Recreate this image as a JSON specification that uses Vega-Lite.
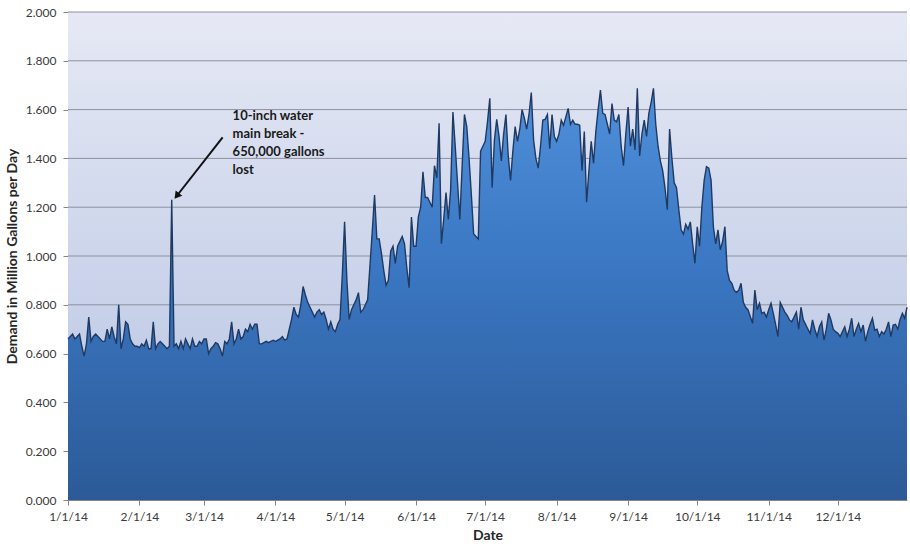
{
  "$schema": "https://vega.github.io/schema/vega-lite/v6.json",
  "width": 839,
  "height": 488,
  "autosize": {"type": "none"},
  "padding": {"left": 68, "top": 12, "right": 3, "bottom": 47},
  "background": "white",
  "config": {
    "view": {"stroke": null},
    "font": "Lato",
    "axis": {
      "domainColor": "#868686",
      "tickColor": "#868686",
      "tickSize": 5,
      "labelColor": "#3a3a3a",
      "labelFont": "Lato",
      "labelFontSize": 12,
      "titleFont": "Lato",
      "titleFontSize": 14,
      "titleFontWeight": "bold",
      "titleColor": "#262626",
      "grid": false
    }
  },
  "datasets": {
    "panel": [{"date": "2014/01/01", "date2": "2014/12/31", "mgd": 0, "mgd2": 2}],
    "gridlines": [{"mgd": 0.2}, {"mgd": 0.4}, {"mgd": 0.6}, {"mgd": 0.8}, {"mgd": 1.0}, {"mgd": 1.2}, {"mgd": 1.4}, {"mgd": 1.6}, {"mgd": 1.8}, {"mgd": 2.0}],
    "note": [
      {"date": "2014/03/13 10:00", "mgd": 1.574, "text": "10-inch water"},
      {"date": "2014/03/13 10:00", "mgd": 1.500, "text": "main break -"},
      {"date": "2014/03/13 10:00", "mgd": 1.426, "text": "650,000 gallons"},
      {"date": "2014/03/13 10:00", "mgd": 1.352, "text": "lost"}
    ],
    "arrow": [{"date": "2014/03/09 02:00", "mgd": 1.486, "date2": "2014/02/17 12:00", "mgd2": 1.25}],
    "arrowhead": [{"date": "2014/02/17 12:00", "mgd": 1.25}],
    "demand": [
      {"date":"2014/01/01","mgd":0.66},{"date":"2014/01/02","mgd":0.67},{"date":"2014/01/03","mgd":0.68},{"date":"2014/01/04","mgd":0.66},{"date":"2014/01/05","mgd":0.67},{"date":"2014/01/06","mgd":0.68},{"date":"2014/01/07","mgd":0.63},{"date":"2014/01/08","mgd":0.59},{"date":"2014/01/09","mgd":0.64},{"date":"2014/01/10","mgd":0.75},{"date":"2014/01/11","mgd":0.65},{"date":"2014/01/12","mgd":0.67},{"date":"2014/01/13","mgd":0.68},{"date":"2014/01/14","mgd":0.67},{"date":"2014/01/15","mgd":0.66},{"date":"2014/01/16","mgd":0.65},{"date":"2014/01/17","mgd":0.65},{"date":"2014/01/18","mgd":0.70},{"date":"2014/01/19","mgd":0.66},{"date":"2014/01/20","mgd":0.71},{"date":"2014/01/21","mgd":0.67},{"date":"2014/01/22","mgd":0.64},{"date":"2014/01/23","mgd":0.80},{"date":"2014/01/24","mgd":0.62},{"date":"2014/01/25","mgd":0.66},{"date":"2014/01/26","mgd":0.73},{"date":"2014/01/27","mgd":0.72},{"date":"2014/01/28","mgd":0.66},{"date":"2014/01/29","mgd":0.64},{"date":"2014/01/30","mgd":0.63},{"date":"2014/01/31","mgd":0.63},
      {"date":"2014/02/01","mgd":0.625},{"date":"2014/02/02","mgd":0.64},{"date":"2014/02/03","mgd":0.63},{"date":"2014/02/04","mgd":0.655},{"date":"2014/02/05","mgd":0.62},{"date":"2014/02/06","mgd":0.62},{"date":"2014/02/07","mgd":0.73},{"date":"2014/02/08","mgd":0.62},{"date":"2014/02/09","mgd":0.64},{"date":"2014/02/10","mgd":0.65},{"date":"2014/02/11","mgd":0.64},{"date":"2014/02/12","mgd":0.63},{"date":"2014/02/13","mgd":0.62},{"date":"2014/02/14","mgd":0.63},{"date":"2014/02/15","mgd":1.23},{"date":"2014/02/16","mgd":0.63},{"date":"2014/02/17","mgd":0.64},{"date":"2014/02/18","mgd":0.62},{"date":"2014/02/19","mgd":0.65},{"date":"2014/02/20","mgd":0.62},{"date":"2014/02/21","mgd":0.66},{"date":"2014/02/22","mgd":0.64},{"date":"2014/02/23","mgd":0.62},{"date":"2014/02/24","mgd":0.66},{"date":"2014/02/25","mgd":0.63},{"date":"2014/02/26","mgd":0.63},{"date":"2014/02/27","mgd":0.65},{"date":"2014/02/28","mgd":0.64},
      {"date":"2014/03/01","mgd":0.66},{"date":"2014/03/02","mgd":0.66},{"date":"2014/03/03","mgd":0.60},{"date":"2014/03/04","mgd":0.62},{"date":"2014/03/05","mgd":0.63},{"date":"2014/03/06","mgd":0.645},{"date":"2014/03/07","mgd":0.64},{"date":"2014/03/08","mgd":0.62},{"date":"2014/03/09","mgd":0.59},{"date":"2014/03/10","mgd":0.65},{"date":"2014/03/11","mgd":0.64},{"date":"2014/03/12","mgd":0.66},{"date":"2014/03/13","mgd":0.73},{"date":"2014/03/14","mgd":0.64},{"date":"2014/03/15","mgd":0.66},{"date":"2014/03/16","mgd":0.70},{"date":"2014/03/17","mgd":0.66},{"date":"2014/03/18","mgd":0.67},{"date":"2014/03/19","mgd":0.70},{"date":"2014/03/20","mgd":0.69},{"date":"2014/03/21","mgd":0.72},{"date":"2014/03/22","mgd":0.70},{"date":"2014/03/23","mgd":0.72},{"date":"2014/03/24","mgd":0.72},{"date":"2014/03/25","mgd":0.64},{"date":"2014/03/26","mgd":0.64},{"date":"2014/03/27","mgd":0.645},{"date":"2014/03/28","mgd":0.65},{"date":"2014/03/29","mgd":0.645},{"date":"2014/03/30","mgd":0.65},{"date":"2014/03/31","mgd":0.655},
      {"date":"2014/04/01","mgd":0.65},{"date":"2014/04/02","mgd":0.655},{"date":"2014/04/03","mgd":0.66},{"date":"2014/04/04","mgd":0.67},{"date":"2014/04/05","mgd":0.655},{"date":"2014/04/06","mgd":0.66},{"date":"2014/04/07","mgd":0.70},{"date":"2014/04/08","mgd":0.74},{"date":"2014/04/09","mgd":0.79},{"date":"2014/04/10","mgd":0.76},{"date":"2014/04/11","mgd":0.75},{"date":"2014/04/12","mgd":0.80},{"date":"2014/04/13","mgd":0.875},{"date":"2014/04/14","mgd":0.84},{"date":"2014/04/15","mgd":0.81},{"date":"2014/04/16","mgd":0.79},{"date":"2014/04/17","mgd":0.77},{"date":"2014/04/18","mgd":0.75},{"date":"2014/04/19","mgd":0.77},{"date":"2014/04/20","mgd":0.78},{"date":"2014/04/21","mgd":0.76},{"date":"2014/04/22","mgd":0.77},{"date":"2014/04/23","mgd":0.74},{"date":"2014/04/24","mgd":0.70},{"date":"2014/04/25","mgd":0.73},{"date":"2014/04/26","mgd":0.70},{"date":"2014/04/27","mgd":0.69},{"date":"2014/04/28","mgd":0.72},{"date":"2014/04/29","mgd":0.74},{"date":"2014/04/30","mgd":0.92},
      {"date":"2014/05/01","mgd":1.14},{"date":"2014/05/02","mgd":0.90},{"date":"2014/05/03","mgd":0.74},{"date":"2014/05/04","mgd":0.78},{"date":"2014/05/05","mgd":0.80},{"date":"2014/05/06","mgd":0.82},{"date":"2014/05/07","mgd":0.85},{"date":"2014/05/08","mgd":0.77},{"date":"2014/05/09","mgd":0.78},{"date":"2014/05/10","mgd":0.80},{"date":"2014/05/11","mgd":0.82},{"date":"2014/05/12","mgd":0.96},{"date":"2014/05/13","mgd":1.10},{"date":"2014/05/14","mgd":1.25},{"date":"2014/05/15","mgd":1.07},{"date":"2014/05/16","mgd":1.07},{"date":"2014/05/17","mgd":1.01},{"date":"2014/05/18","mgd":0.94},{"date":"2014/05/19","mgd":0.88},{"date":"2014/05/20","mgd":0.90},{"date":"2014/05/21","mgd":1.02},{"date":"2014/05/22","mgd":1.04},{"date":"2014/05/23","mgd":0.97},{"date":"2014/05/24","mgd":1.04},{"date":"2014/05/25","mgd":1.06},{"date":"2014/05/26","mgd":1.08},{"date":"2014/05/27","mgd":1.05},{"date":"2014/05/28","mgd":0.95},{"date":"2014/05/29","mgd":0.87},{"date":"2014/05/30","mgd":1.16},{"date":"2014/05/31","mgd":1.04},
      {"date":"2014/06/01","mgd":1.04},{"date":"2014/06/02","mgd":1.16},{"date":"2014/06/03","mgd":1.20},{"date":"2014/06/04","mgd":1.345},{"date":"2014/06/05","mgd":1.24},{"date":"2014/06/06","mgd":1.24},{"date":"2014/06/07","mgd":1.22},{"date":"2014/06/08","mgd":1.20},{"date":"2014/06/09","mgd":1.37},{"date":"2014/06/10","mgd":1.32},{"date":"2014/06/11","mgd":1.544},{"date":"2014/06/12","mgd":1.05},{"date":"2014/06/13","mgd":1.15},{"date":"2014/06/14","mgd":1.26},{"date":"2014/06/15","mgd":1.15},{"date":"2014/06/16","mgd":1.27},{"date":"2014/06/17","mgd":1.59},{"date":"2014/06/18","mgd":1.45},{"date":"2014/06/19","mgd":1.30},{"date":"2014/06/20","mgd":1.15},{"date":"2014/06/21","mgd":1.37},{"date":"2014/06/22","mgd":1.58},{"date":"2014/06/23","mgd":1.53},{"date":"2014/06/24","mgd":1.40},{"date":"2014/06/25","mgd":1.25},{"date":"2014/06/26","mgd":1.09},{"date":"2014/06/27","mgd":1.08},{"date":"2014/06/28","mgd":1.07},{"date":"2014/06/29","mgd":1.43},{"date":"2014/06/30","mgd":1.45},
      {"date":"2014/07/01","mgd":1.47},{"date":"2014/07/02","mgd":1.55},{"date":"2014/07/03","mgd":1.646},{"date":"2014/07/04","mgd":1.28},{"date":"2014/07/05","mgd":1.475},{"date":"2014/07/06","mgd":1.56},{"date":"2014/07/07","mgd":1.49},{"date":"2014/07/08","mgd":1.39},{"date":"2014/07/09","mgd":1.50},{"date":"2014/07/10","mgd":1.58},{"date":"2014/07/11","mgd":1.41},{"date":"2014/07/12","mgd":1.31},{"date":"2014/07/13","mgd":1.43},{"date":"2014/07/14","mgd":1.53},{"date":"2014/07/15","mgd":1.47},{"date":"2014/07/16","mgd":1.52},{"date":"2014/07/17","mgd":1.60},{"date":"2014/07/18","mgd":1.565},{"date":"2014/07/19","mgd":1.52},{"date":"2014/07/20","mgd":1.58},{"date":"2014/07/21","mgd":1.67},{"date":"2014/07/22","mgd":1.475},{"date":"2014/07/23","mgd":1.40},{"date":"2014/07/24","mgd":1.36},{"date":"2014/07/25","mgd":1.45},{"date":"2014/07/26","mgd":1.557},{"date":"2014/07/27","mgd":1.56},{"date":"2014/07/28","mgd":1.58},{"date":"2014/07/29","mgd":1.44},{"date":"2014/07/30","mgd":1.58},{"date":"2014/07/31","mgd":1.49},
      {"date":"2014/08/01","mgd":1.47},{"date":"2014/08/02","mgd":1.50},{"date":"2014/08/03","mgd":1.557},{"date":"2014/08/04","mgd":1.536},{"date":"2014/08/05","mgd":1.57},{"date":"2014/08/06","mgd":1.605},{"date":"2014/08/07","mgd":1.54},{"date":"2014/08/08","mgd":1.557},{"date":"2014/08/09","mgd":1.54},{"date":"2014/08/10","mgd":1.54},{"date":"2014/08/11","mgd":1.536},{"date":"2014/08/12","mgd":1.35},{"date":"2014/08/13","mgd":1.51},{"date":"2014/08/14","mgd":1.22},{"date":"2014/08/15","mgd":1.35},{"date":"2014/08/16","mgd":1.47},{"date":"2014/08/17","mgd":1.38},{"date":"2014/08/18","mgd":1.51},{"date":"2014/08/19","mgd":1.60},{"date":"2014/08/20","mgd":1.68},{"date":"2014/08/21","mgd":1.585},{"date":"2014/08/22","mgd":1.58},{"date":"2014/08/23","mgd":1.54},{"date":"2014/08/24","mgd":1.50},{"date":"2014/08/25","mgd":1.625},{"date":"2014/08/26","mgd":1.557},{"date":"2014/08/27","mgd":1.55},{"date":"2014/08/28","mgd":1.58},{"date":"2014/08/29","mgd":1.45},{"date":"2014/08/30","mgd":1.37},{"date":"2014/08/31","mgd":1.50},
      {"date":"2014/09/01","mgd":1.61},{"date":"2014/09/02","mgd":1.45},{"date":"2014/09/03","mgd":1.52},{"date":"2014/09/04","mgd":1.435},{"date":"2014/09/05","mgd":1.687},{"date":"2014/09/06","mgd":1.41},{"date":"2014/09/07","mgd":1.50},{"date":"2014/09/08","mgd":1.557},{"date":"2014/09/09","mgd":1.49},{"date":"2014/09/10","mgd":1.585},{"date":"2014/09/11","mgd":1.63},{"date":"2014/09/12","mgd":1.687},{"date":"2014/09/13","mgd":1.54},{"date":"2014/09/14","mgd":1.45},{"date":"2014/09/15","mgd":1.39},{"date":"2014/09/16","mgd":1.35},{"date":"2014/09/17","mgd":1.28},{"date":"2014/09/18","mgd":1.19},{"date":"2014/09/19","mgd":1.52},{"date":"2014/09/20","mgd":1.40},{"date":"2014/09/21","mgd":1.30},{"date":"2014/09/22","mgd":1.28},{"date":"2014/09/23","mgd":1.19},{"date":"2014/09/24","mgd":1.107},{"date":"2014/09/25","mgd":1.09},{"date":"2014/09/26","mgd":1.13},{"date":"2014/09/27","mgd":1.11},{"date":"2014/09/28","mgd":1.14},{"date":"2014/09/29","mgd":1.05},{"date":"2014/09/30","mgd":0.97},
      {"date":"2014/10/01","mgd":1.12},{"date":"2014/10/02","mgd":1.04},{"date":"2014/10/03","mgd":1.20},{"date":"2014/10/04","mgd":1.31},{"date":"2014/10/05","mgd":1.366},{"date":"2014/10/06","mgd":1.36},{"date":"2014/10/07","mgd":1.31},{"date":"2014/10/08","mgd":1.12},{"date":"2014/10/09","mgd":1.05},{"date":"2014/10/10","mgd":1.107},{"date":"2014/10/11","mgd":1.025},{"date":"2014/10/12","mgd":1.06},{"date":"2014/10/13","mgd":1.12},{"date":"2014/10/14","mgd":0.94},{"date":"2014/10/15","mgd":0.90},{"date":"2014/10/16","mgd":0.888},{"date":"2014/10/17","mgd":0.86},{"date":"2014/10/18","mgd":0.85},{"date":"2014/10/19","mgd":0.86},{"date":"2014/10/20","mgd":0.888},{"date":"2014/10/21","mgd":0.81},{"date":"2014/10/22","mgd":0.79},{"date":"2014/10/23","mgd":0.78},{"date":"2014/10/24","mgd":0.752},{"date":"2014/10/25","mgd":0.724},{"date":"2014/10/26","mgd":0.86},{"date":"2014/10/27","mgd":0.78},{"date":"2014/10/28","mgd":0.806},{"date":"2014/10/29","mgd":0.765},{"date":"2014/10/30","mgd":0.77},{"date":"2014/10/31","mgd":0.75},
      {"date":"2014/11/01","mgd":0.78},{"date":"2014/11/02","mgd":0.806},{"date":"2014/11/03","mgd":0.765},{"date":"2014/11/04","mgd":0.72},{"date":"2014/11/05","mgd":0.67},{"date":"2014/11/06","mgd":0.81},{"date":"2014/11/07","mgd":0.79},{"date":"2014/11/08","mgd":0.77},{"date":"2014/11/09","mgd":0.757},{"date":"2014/11/10","mgd":0.738},{"date":"2014/11/11","mgd":0.73},{"date":"2014/11/12","mgd":0.75},{"date":"2014/11/13","mgd":0.77},{"date":"2014/11/14","mgd":0.70},{"date":"2014/11/15","mgd":0.79},{"date":"2014/11/16","mgd":0.738},{"date":"2014/11/17","mgd":0.72},{"date":"2014/11/18","mgd":0.70},{"date":"2014/11/19","mgd":0.683},{"date":"2014/11/20","mgd":0.738},{"date":"2014/11/21","mgd":0.70},{"date":"2014/11/22","mgd":0.67},{"date":"2014/11/23","mgd":0.71},{"date":"2014/11/24","mgd":0.73},{"date":"2014/11/25","mgd":0.655},{"date":"2014/11/26","mgd":0.70},{"date":"2014/11/27","mgd":0.765},{"date":"2014/11/28","mgd":0.738},{"date":"2014/11/29","mgd":0.70},{"date":"2014/11/30","mgd":0.69},
      {"date":"2014/12/01","mgd":0.683},{"date":"2014/12/02","mgd":0.67},{"date":"2014/12/03","mgd":0.69},{"date":"2014/12/04","mgd":0.71},{"date":"2014/12/05","mgd":0.67},{"date":"2014/12/06","mgd":0.70},{"date":"2014/12/07","mgd":0.745},{"date":"2014/12/08","mgd":0.67},{"date":"2014/12/09","mgd":0.70},{"date":"2014/12/10","mgd":0.724},{"date":"2014/12/11","mgd":0.69},{"date":"2014/12/12","mgd":0.717},{"date":"2014/12/13","mgd":0.65},{"date":"2014/12/14","mgd":0.69},{"date":"2014/12/15","mgd":0.72},{"date":"2014/12/16","mgd":0.745},{"date":"2014/12/17","mgd":0.696},{"date":"2014/12/18","mgd":0.70},{"date":"2014/12/19","mgd":0.67},{"date":"2014/12/20","mgd":0.69},{"date":"2014/12/21","mgd":0.68},{"date":"2014/12/22","mgd":0.70},{"date":"2014/12/23","mgd":0.73},{"date":"2014/12/24","mgd":0.67},{"date":"2014/12/25","mgd":0.717},{"date":"2014/12/26","mgd":0.72},{"date":"2014/12/27","mgd":0.70},{"date":"2014/12/28","mgd":0.74},{"date":"2014/12/29","mgd":0.765},{"date":"2014/12/30","mgd":0.745},{"date":"2014/12/31","mgd":0.79}
    ]
  },
  "layer": [
    {
      "data": {"name": "panel"},
      "mark": {
        "type": "rect",
        "color": {
          "gradient": "linear", "x1": 0, "y1": 0, "x2": 0, "y2": 1,
          "stops": [{"offset": 0, "color": "#e6e9f5"}, {"offset": 1, "color": "#b4c2e1"}]
        }
      },
      "encoding": {
        "x": {"field": "date", "type": "temporal"},
        "x2": {"field": "date2"},
        "y": {"field": "mgd", "type": "quantitative"},
        "y2": {"field": "mgd2"}
      }
    },
    {
      "data": {"name": "gridlines"},
      "mark": {"type": "rule", "color": "#8d919d", "strokeWidth": 1},
      "encoding": {
        "y": {"field": "mgd", "type": "quantitative"}
      }
    },
    {
      "data": {"name": "demand"},
      "mark": {
        "type": "area",
        "interpolate": "linear",
        "opacity": 1,
        "fillOpacity": 1,
        "color": {
          "gradient": "linear", "x1": 0, "y1": 0, "x2": 0, "y2": 1,
          "stops": [
            {"offset": 0, "color": "#4f8fda"},
            {"offset": 0.45, "color": "#3a76c1"},
            {"offset": 1, "color": "#2c5a97"}
          ]
        },
        "line": {"color": "#1f3a62", "strokeWidth": 1.4}
      },
      "encoding": {
        "x": {
          "field": "date",
          "type": "temporal",
          "scale": {
            "domain": [{"year": 2014, "month": 1, "date": 1}, {"year": 2014, "month": 12, "date": 31}],
            "nice": false
          },
          "axis": {
            "title": "Date",
            "format": "%-m/%-d/%y",
            "values": [
              {"year": 2014, "month": 1, "date": 1}, {"year": 2014, "month": 2, "date": 1},
              {"year": 2014, "month": 3, "date": 1}, {"year": 2014, "month": 4, "date": 1},
              {"year": 2014, "month": 5, "date": 1}, {"year": 2014, "month": 6, "date": 1},
              {"year": 2014, "month": 7, "date": 1}, {"year": 2014, "month": 8, "date": 1},
              {"year": 2014, "month": 9, "date": 1}, {"year": 2014, "month": 10, "date": 1},
              {"year": 2014, "month": 11, "date": 1}, {"year": 2014, "month": 12, "date": 1}
            ],
            "labelPadding": 6,
            "labelFlush": false,
            "labelOverlap": false,
            "titlePadding": 6
          }
        },
        "y": {
          "field": "mgd",
          "type": "quantitative",
          "scale": {"domain": [0, 2], "nice": false},
          "axis": {
            "title": "Demand in Million Gallons per Day",
            "values": [0, 0.2, 0.4, 0.6, 0.8, 1.0, 1.2, 1.4, 1.6, 1.8, 2.0],
            "format": ".3f",
            "labelPadding": 7,
            "titlePadding": 6
          }
        }
      }
    },
    {
      "data": {"name": "arrow"},
      "mark": {"type": "rule", "color": "#111111", "strokeWidth": 2},
      "encoding": {
        "x": {"field": "date", "type": "temporal"},
        "x2": {"field": "date2"},
        "y": {"field": "mgd", "type": "quantitative"},
        "y2": {"field": "mgd2"}
      }
    },
    {
      "data": {"name": "arrowhead"},
      "mark": {"type": "point", "shape": "triangle", "angle": 218, "size": 70, "filled": true, "color": "#111111", "opacity": 1},
      "encoding": {
        "x": {"field": "date", "type": "temporal"},
        "y": {"field": "mgd", "type": "quantitative"}
      }
    },
    {
      "data": {"name": "note"},
      "mark": {"type": "text", "align": "left", "baseline": "middle", "font": "Lato", "fontSize": 13, "fontWeight": "bold", "color": "#1a1a1a"},
      "encoding": {
        "x": {"field": "date", "type": "temporal"},
        "y": {"field": "mgd", "type": "quantitative"},
        "text": {"field": "text"}
      }
    }
  ]
}
